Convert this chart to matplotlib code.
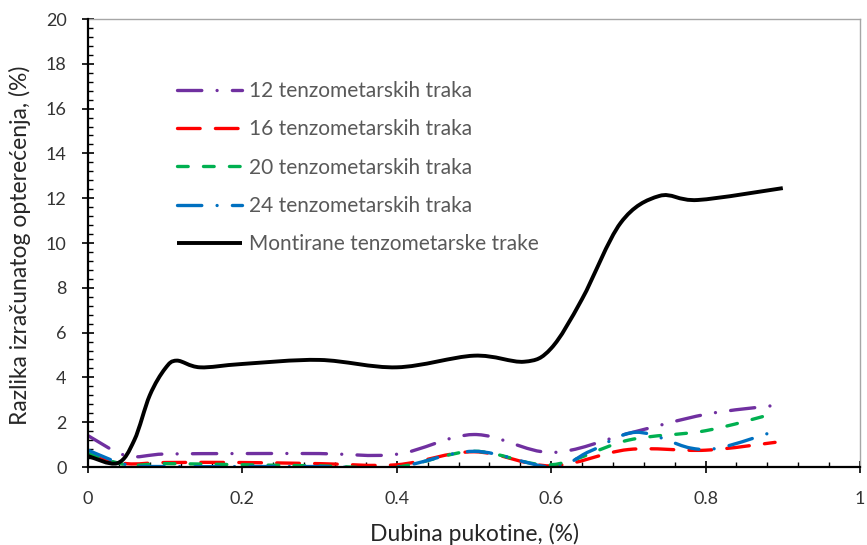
import numpy as np
import matplotlib
matplotlib.use('Agg')
import matplotlib.pyplot as plt
from matplotlib.path import Path
from matplotlib.patches import PathPatch
from matplotlib.lines import Line2D
from matplotlib.ticker import AutoMinorLocator

plt.rcParams['font.family'] = ['Lato', 'DejaVu Sans']
plt.rcParams['lines.scale_dashes'] = False

# ---------------- data ----------------
depth_12 = [0, 0.05, 0.1, 0.2, 0.3, 0.4, 0.5, 0.6, 0.7, 0.8, 0.89]
diff_12 = [1.4, 0.5, 0.58, 0.6, 0.6, 0.57, 1.45, 0.65, 1.5, 2.35, 2.75]

depth_16 = [0, 0.05, 0.1, 0.2, 0.3, 0.4, 0.5, 0.6, 0.7, 0.8, 0.89]
diff_16 = [0.5, 0.15, 0.2, 0.2, 0.15, 0.1, 0.68, 0.05, 0.78, 0.75, 1.1]

depth_20 = [0, 0.05, 0.1, 0.2, 0.3, 0.4, 0.5, 0.6, 0.7, 0.8, 0.89]
diff_20 = [0.6, 0.1, 0.15, 0.1, 0.05, 0.0, 0.7, 0.1, 1.2, 1.62, 2.4]

depth_24 = [0, 0.05, 0.1, 0.2, 0.3, 0.4, 0.5, 0.6, 0.65, 0.71, 0.78, 0.82, 0.89]
diff_24 = [0.75, 0.1, 0.02, 0.02, 0.02, 0.0, 0.7, 0.0, 0.7, 1.55, 0.85, 0.87, 1.6]

depth_mt = [0, 0.038, 0.06, 0.08, 0.1, 0.115, 0.145, 0.2, 0.3, 0.4, 0.5,
            0.565, 0.6, 0.64, 0.69, 0.74, 0.79, 0.9]
diff_mt = [0.49, 0.17, 1.2, 3.2, 4.4, 4.75, 4.45, 4.6, 4.78, 4.45, 4.97,
           4.7, 5.3, 7.5, 10.9, 12.1, 11.92, 12.45]

series_labels = ['12 tenzometarskih traka', '16 tenzometarskih traka',
                 '20 tenzometarskih traka', '24 tenzometarskih traka',
                 'Montirane tenzometarske trake']

x_ticks = [0, 0.2, 0.4, 0.6, 0.8, 1.0]
x_tick_labels = ['0', '0.2', '0.4', '0.6', '0.8', '1']
y_ticks = [0, 2, 4, 6, 8, 10, 12, 14, 16, 18, 20]
y_tick_labels = ['0', '2', '4', '6', '8', '10', '12', '14', '16', '18', '20']

x_title = 'Dubina pukotine, (%)'
y_title = 'Razlika izračunatog opterećenja, (%)'


def smooth_path(xs, ys):
    """Excel-style smoothed line: cubic Bezier through the data points."""
    pts = np.column_stack([xs, ys]).astype(float)
    n = len(pts)
    verts = [pts[0]]
    codes = [Path.MOVETO]
    for i in range(n - 1):
        p0 = pts[i - 1] if i > 0 else pts[i]
        p1 = pts[i]
        p2 = pts[i + 1]
        p3 = pts[i + 2] if i + 2 < n else pts[i + 1]
        c1 = p1 + (p2 - p0) / 6.0
        c2 = p2 - (p3 - p1) / 6.0
        verts += [c1, c2, p2]
        codes += [Path.CURVE4] * 3
    return Path(verts, codes)


W, H = 867, 545
fig = plt.figure(figsize=(W / 100, H / 100), dpi=100)
ax = fig.add_axes([88 / W, 1 - 467 / H, 772 / W, 448 / H])
ax.set_xlim(0, 1)
ax.set_ylim(0, 20)

lw_c = 2.4
long_dash_dot = (0, (17.5, 11, 0.01, 11))
long_dash = (0, (16.3, 11))
dash = (0, (7.7, 11))

styles = [
    (depth_12, diff_12, '#7030A0', lw_c, long_dash_dot),
    (depth_16, diff_16, '#FF0000', lw_c, long_dash),
    (depth_20, diff_20, '#00B050', lw_c, dash),
    (depth_24, diff_24, '#0070C0', lw_c, long_dash_dot),
    (depth_mt, diff_mt, '#000000', 2.8, 'solid'),
]

handles = []
for k, (xs, ys, col, lw, ls) in enumerate(styles):
    patch = PathPatch(smooth_path(xs, ys), fill=False, edgecolor=col,
                      linewidth=lw, linestyle=ls,
                      capstyle='round' if ls != 'solid' else 'butt',
                      joinstyle='round', zorder=2 + k * 0.1)
    ax.add_patch(patch)
    handles.append(Line2D([], [], color=col, linewidth=lw, linestyle=ls,
                          dash_capstyle='round', solid_capstyle='butt'))

# spines
for s in ['left', 'bottom']:
    ax.spines[s].set_color('black')
    ax.spines[s].set_linewidth(1.6)
    ax.spines[s].set_zorder(10)
for s in ['top', 'right']:
    ax.spines[s].set_color('#a6a6a6')
    ax.spines[s].set_linewidth(1.0)

ax.set_xticks(x_ticks)
ax.set_xticklabels(x_tick_labels)
ax.set_yticks(y_ticks)
ax.set_yticklabels(y_tick_labels)
ax.xaxis.set_minor_locator(AutoMinorLocator(5))
ax.yaxis.set_minor_locator(AutoMinorLocator(5))

tick_col = '#333333'
ax.tick_params(axis='both', which='major', direction='inout', length=8.6,
               width=1.2, color='black', labelsize=13, labelcolor=tick_col)
ax.tick_params(axis='x', which='major', pad=13)
ax.tick_params(axis='y', which='major', pad=11.2)
ax.tick_params(axis='both', which='minor', direction='in', length=3.6,
               width=1.0, color='black')
ax.tick_params(top=False, right=False, which='both')

fig.text(474 / W, 4 / H, x_title, ha='center', va='baseline',
         fontsize=16.5, color='#262626')
fig.text(20 / W, 1 - 245 / H, y_title, ha='center', va='center',
         rotation=90, fontsize=16.5, color='#262626')

leg_fs = 15
ax.legend(handles, series_labels, loc='upper left',
          bbox_to_anchor=(177 / W, 1 - 81 / H), bbox_transform=fig.transFigure,
          frameon=False, fontsize=leg_fs, handlelength=65 / 20.8,
          handletextpad=0.33, labelspacing=0.88, borderpad=0,
          borderaxespad=0, labelcolor='#595959')

fig.savefig('out.png', dpi=100)
